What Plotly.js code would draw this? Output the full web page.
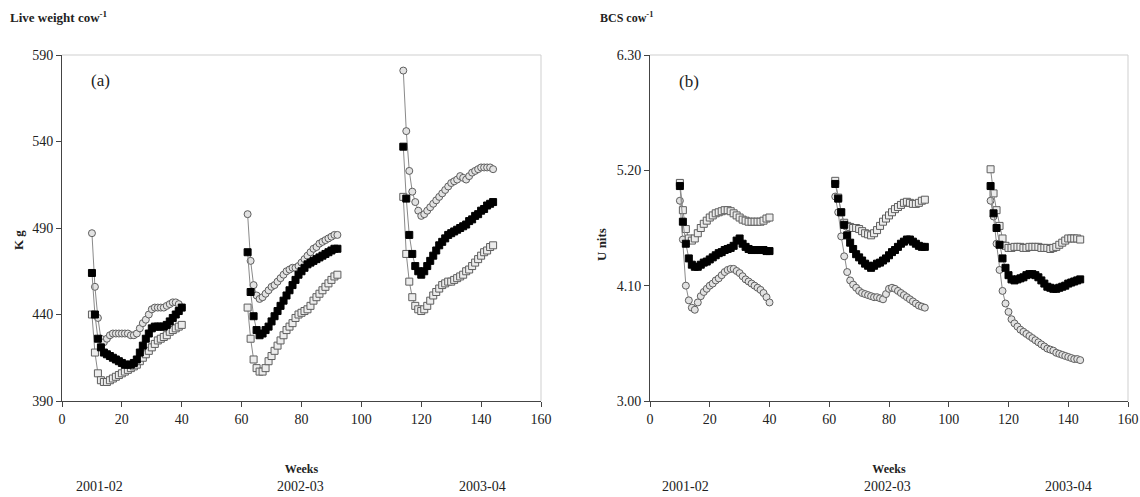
<!DOCTYPE html>
<html>
<head>
<meta charset="utf-8">
<script src="https://cdn.plot.ly/plotly-3.0.1.min.js"></script>
<style>html,body{margin:0;padding:0;background:#fff;}#chart{width:1140px;height:497px;}</style>
</head>
<body>
<div id="chart"></div>
<script>
// Weeks for each season
const weeks1 = [10,11,12,13,14,15,16,17,18,19,20,21,22,23,24,25,26,27,28,29,30,31,32,33,34,35,36,37,38,39,40];
const weeks2 = [62,63,64,65,66,67,68,69,70,71,72,73,74,75,76,77,78,79,80,81,82,83,84,85,86,87,88,89,90,91,92];
const weeks3 = [114,115,116,117,118,119,120,121,122,123,124,125,126,127,128,129,130,131,132,133,134,135,136,137,138,139,140,141,142,143,144];
const seasonLabels = ["2001-02","2002-03","2003-04"];

// Live weight (kg) - panel (a)
const lwCircle1 = [487,456,438,426,424,426,428,429,429,429,429,429,429,428,428,429,432,435,437,440,443,444,444,444,444,445,446,447,447,446,444];
const lwFilled1 = [464,440,426,421,418,417,416,415,414,413,412,411,411,411,412,414,418,422,426,429,432,433,433,433,433,434,436,438,440,442,444];
const lwOpen1   = [440,418,406,402,401,401,402,403,404,405,406,407,408,409,410,411,413,415,417,419,421,423,425,426,427,428,430,431,432,433,434];
const lwCircle2 = [498,471,457,451,449,450,452,454,456,457,459,461,463,465,466,467,467,468,470,472,474,476,478,479,481,482,483,484,485,486,486];
const lwFilled2 = [476,453,439,431,428,429,431,433,436,439,442,445,448,451,454,457,460,463,465,467,469,470,471,472,473,474,475,476,477,478,478];
const lwOpen2   = [444,426,414,409,407,407,409,413,416,419,422,425,428,431,433,435,438,440,441,442,443,445,448,450,452,454,456,458,460,462,463];
const lwCircle3 = [581,546,523,511,505,500,497,498,500,502,504,506,508,510,512,514,516,517,518,520,519,518,520,522,523,524,525,525,525,525,524];
const lwFilled3 = [537,507,486,475,468,465,463,465,468,471,474,477,480,482,484,486,487,488,489,490,491,492,494,495,497,498,500,501,503,504,505];
const lwOpen3   = [508,475,459,450,445,443,442,443,445,448,451,453,455,457,458,459,459,460,461,462,463,465,466,468,470,472,474,476,477,479,480];

// BCS (units) - panel (b)
const bcsOpen1   = [5.08,4.82,4.64,4.55,4.53,4.55,4.60,4.65,4.69,4.72,4.75,4.77,4.79,4.80,4.81,4.82,4.82,4.81,4.79,4.77,4.75,4.73,4.72,4.71,4.71,4.71,4.71,4.71,4.72,4.74,4.75];
const bcsFilled1 = [5.05,4.71,4.50,4.36,4.30,4.28,4.28,4.30,4.32,4.33,4.35,4.37,4.39,4.41,4.42,4.44,4.45,4.46,4.48,4.53,4.55,4.50,4.47,4.45,4.44,4.44,4.44,4.44,4.44,4.43,4.43];
const bcsCircle1 = [4.91,4.54,4.10,3.96,3.89,3.87,3.94,4.00,4.04,4.07,4.10,4.12,4.15,4.17,4.20,4.23,4.25,4.26,4.26,4.24,4.22,4.19,4.16,4.14,4.12,4.10,4.08,4.06,4.03,3.99,3.94];
const bcsOpen2   = [5.10,4.94,4.80,4.70,4.67,4.66,4.65,4.65,4.64,4.62,4.60,4.59,4.58,4.60,4.63,4.67,4.71,4.74,4.77,4.80,4.83,4.85,4.87,4.89,4.90,4.89,4.88,4.88,4.89,4.91,4.92];
const bcsFilled2 = [5.07,4.93,4.80,4.68,4.58,4.51,4.45,4.40,4.37,4.34,4.31,4.29,4.27,4.29,4.31,4.32,4.34,4.36,4.39,4.42,4.44,4.47,4.50,4.52,4.54,4.54,4.52,4.50,4.48,4.47,4.47];
const bcsCircle2 = [4.95,4.80,4.57,4.38,4.23,4.15,4.11,4.08,4.05,4.03,4.02,4.01,4.00,3.99,3.99,3.98,3.97,4.02,4.07,4.08,4.07,4.05,4.03,4.01,3.99,3.97,3.95,3.93,3.91,3.90,3.89];
const bcsOpen3   = [5.21,4.98,4.82,4.67,4.55,4.48,4.46,4.46,4.47,4.47,4.47,4.46,4.46,4.47,4.47,4.47,4.47,4.46,4.46,4.46,4.45,4.46,4.47,4.49,4.51,4.53,4.55,4.55,4.55,4.55,4.54];
const bcsFilled3 = [5.05,4.79,4.65,4.49,4.36,4.27,4.20,4.16,4.15,4.16,4.17,4.18,4.20,4.21,4.21,4.20,4.18,4.15,4.12,4.09,4.08,4.07,4.07,4.08,4.09,4.10,4.12,4.13,4.14,4.15,4.16];
const bcsCircle3 = [4.91,4.76,4.50,4.25,4.05,3.93,3.85,3.78,3.74,3.71,3.68,3.66,3.64,3.62,3.60,3.58,3.56,3.54,3.52,3.50,3.49,3.48,3.46,3.45,3.44,3.43,3.42,3.41,3.40,3.40,3.39];

// Axis ticks
const xTicks = [0,20,40,60,80,100,120,140,160];
const lwTicks = [390,440,490,540,590];
const bcsTicks = [3.00,4.10,5.20,6.30];
const bcsTickText = ["3.00","4.10","5.20","6.30"];

const lineStyle = {color:'#8a8a8a', width:1};
const styles = {
  circle: {symbol:'circle', size:7, color:'#e2e2e2', line:{color:'#5e5e5e', width:1}},
  filled: {symbol:'square', size:7, color:'#000000', line:{color:'#000000', width:1}},
  open:   {symbol:'square', size:7, color:'#ececec', line:{color:'#5e5e5e', width:1}}
};

const traces = [];
function addSeason(xs, ys, kind, xa, ya) {
  traces.push({x:xs, y:ys, type:'scatter', mode:'lines+markers', xaxis:xa, yaxis:ya,
    line:lineStyle, marker:styles[kind], showlegend:false, hoverinfo:'x+y'});
}
const seasonWeeks = [weeks1, weeks2, weeks3];
const lwData = {circle:[lwCircle1,lwCircle2,lwCircle3], filled:[lwFilled1,lwFilled2,lwFilled3], open:[lwOpen1,lwOpen2,lwOpen3]};
const bcsData = {circle:[bcsCircle1,bcsCircle2,bcsCircle3], filled:[bcsFilled1,bcsFilled2,bcsFilled3], open:[bcsOpen1,bcsOpen2,bcsOpen3]};
['circle','open','filled'].forEach(k => {
  for (let s = 0; s < 3; s++) addSeason(seasonWeeks[s], lwData[k][s], k, 'x', 'y');
});
['circle','open','filled'].forEach(k => {
  for (let s = 0; s < 3; s++) addSeason(seasonWeeks[s], bcsData[k][s], k, 'x2', 'y2');
});

const W = 1140, H = 497;
const yDom = [(H-401)/H, (H-55)/H];
const font = {family:'Liberation Serif, Times New Roman, serif', size:14, color:'#222'};

const xCommon = {range:[0,160], tickvals:xTicks, ticks:'outside', ticklen:5, tickcolor:'#444',
  showline:true, linecolor:'#444', linewidth:1, showgrid:false, zeroline:false,
  tickfont:{family:font.family, size:14, color:'#222'}, fixedrange:true,
  title:{text:'<b>Weeks</b>', font:{family:font.family, size:12, color:'#222'}, standoff:38}};

const layout = {
  width:W, height:H, margin:{l:0,r:0,t:0,b:0}, paper_bgcolor:'#fff', plot_bgcolor:'#fff',
  font:font, showlegend:false,
  xaxis: Object.assign({}, xCommon, {domain:[62/W, 541/W], anchor:'y'}),
  xaxis2: Object.assign({}, xCommon, {domain:[650/W, 1128/W], anchor:'y2'}),
  yaxis: {domain:yDom, range:[390,590], tickvals:lwTicks, ticks:'outside', ticklen:5, tickcolor:'#444',
    showline:true, linecolor:'#444', showgrid:false, zeroline:false, anchor:'x',
    tickfont:{family:font.family, size:14, color:'#222'}, fixedrange:true},
  yaxis2: {domain:yDom, range:[3.0,6.3], tickvals:bcsTicks, ticktext:bcsTickText, ticks:'outside', ticklen:5, tickcolor:'#444',
    showline:true, linecolor:'#444', showgrid:false, zeroline:false, anchor:'x2',
    tickfont:{family:font.family, size:14, color:'#222'}, fixedrange:true},
  shapes: [
    {type:'line', xref:'x domain', yref:'y domain', x0:0, x1:1, y0:1, y1:1, line:{color:'#cfcfcf', width:1}},
    {type:'line', xref:'x domain', yref:'y domain', x0:1, x1:1, y0:0, y1:1, line:{color:'#cfcfcf', width:1}},
    {type:'line', xref:'x2 domain', yref:'y2 domain', x0:0, x1:1, y0:1, y1:1, line:{color:'#cfcfcf', width:1}},
    {type:'line', xref:'x2 domain', yref:'y2 domain', x0:1, x1:1, y0:0, y1:1, line:{color:'#cfcfcf', width:1}}
  ],
  annotations: [
    {text:'<b>Live weight cow<sup>-1</sup></b>', xref:'paper', yref:'paper', x:8/W, y:(H-17)/H, xanchor:'left', yanchor:'middle', showarrow:false, font:{family:font.family, size:13, color:'#222'}},
    {text:'<b>BCS cow<sup>-1</sup></b>', xref:'paper', yref:'paper', x:598/W, y:(H-17)/H, xanchor:'left', yanchor:'middle', showarrow:false, font:{family:font.family, size:12, color:'#222'}},
    {text:'<b>K g</b>', xref:'paper', yref:'paper', x:18/W, y:(H-240)/H, textangle:-90, xanchor:'center', yanchor:'middle', showarrow:false, font:{family:font.family, size:13, color:'#222'}},
    {text:'<b>U nits</b>', xref:'paper', yref:'paper', x:601/W, y:(H-245)/H, textangle:-90, xanchor:'center', yanchor:'middle', showarrow:false, font:{family:font.family, size:13, color:'#222'}},
    {text:'(a)', xref:'x', yref:'y', x:9, y:575, xanchor:'left', yanchor:'middle', showarrow:false, font:{family:font.family, size:17, color:'#222'}},
    {text:'(b)', xref:'x2', yref:'y2', x:9, y:6.05, xanchor:'left', yanchor:'middle', showarrow:false, font:{family:font.family, size:17, color:'#222'}},
    {text:seasonLabels[0], xref:'x', yref:'paper', x:12.5, y:(H-486)/H, xanchor:'center', yanchor:'middle', showarrow:false, font:{family:font.family, size:14, color:'#222'}},
    {text:seasonLabels[1], xref:'x', yref:'paper', x:79.5, y:(H-486)/H, xanchor:'center', yanchor:'middle', showarrow:false, font:{family:font.family, size:14, color:'#222'}},
    {text:seasonLabels[2], xref:'x', yref:'paper', x:140.5, y:(H-486)/H, xanchor:'center', yanchor:'middle', showarrow:false, font:{family:font.family, size:14, color:'#222'}},
    {text:seasonLabels[0], xref:'x2', yref:'paper', x:12, y:(H-486)/H, xanchor:'center', yanchor:'middle', showarrow:false, font:{family:font.family, size:14, color:'#222'}},
    {text:seasonLabels[1], xref:'x2', yref:'paper', x:79.5, y:(H-486)/H, xanchor:'center', yanchor:'middle', showarrow:false, font:{family:font.family, size:14, color:'#222'}},
    {text:seasonLabels[2], xref:'x2', yref:'paper', x:140, y:(H-486)/H, xanchor:'center', yanchor:'middle', showarrow:false, font:{family:font.family, size:14, color:'#222'}}
  ]
};

Plotly.newPlot('chart', traces, layout, {displayModeBar:false, staticPlot:true});
</script>
</body>
</html>
